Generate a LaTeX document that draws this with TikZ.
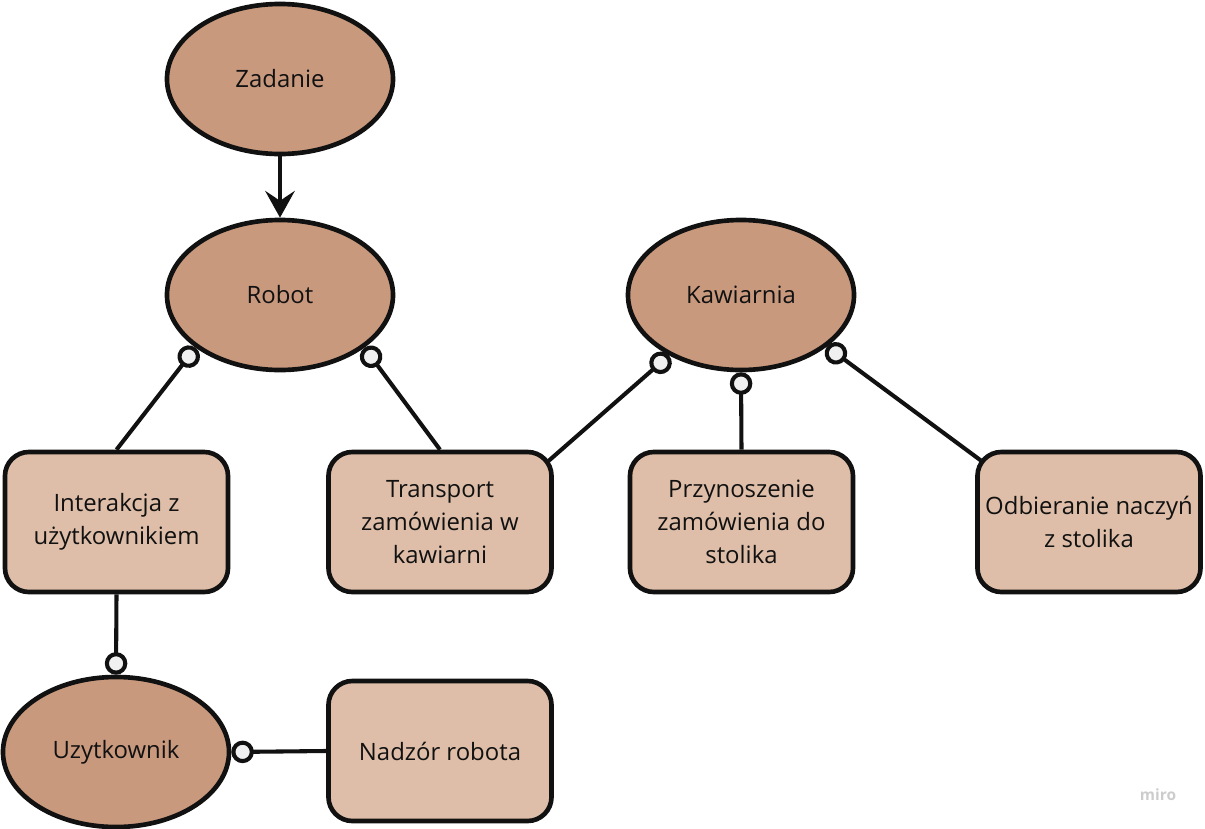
\documentclass[tikz,border=0pt]{standalone}
\usepackage{fontspec}
\setmainfont{Open Sans}
\usetikzlibrary{shapes}
\usetikzlibrary{positioning}
\usetikzlibrary{arrows.meta}
\definecolor{elfill}{HTML}{C9997E}
\definecolor{boxfill}{HTML}{DEBEA8}
\definecolor{dotfill}{HTML}{F0F0F0}
\definecolor{ink}{HTML}{111111}
\tikzset{
    myellipse/.style = {ellipse, line width=3.3pt, draw=ink, align=center, fill=elfill, minimum width=5.65cm, minimum height=3.75cm, font=\fontsize{17}{23.5}\selectfont, text=ink},
    mybox/.style = {rectangle, rounded corners=0.6cm, line width=3.3pt, draw=ink, align=center, fill=boxfill, minimum width=5.575cm, minimum height=3.5cm, font=\fontsize{17}{23.5}\selectfont, text=ink},
    edgeo/.style = {-{Circle[length=16pt, fill=dotfill]}, line width=2.9pt, ink}, % circle end
    edgea/.style = {-{Stealth[length=19pt, width=21pt, inset=7pt]}, line width=2.9pt, ink}, % arrow
    mymark/.style = {text=gray!40, font=\bfseries\fontsize{11}{11}\selectfont}
}
\begin{document}
\begin{tikzpicture}[x=0.025cm, y=-0.025cm]
\useasboundingbox (0,0) rectangle (1205,829);
% ellipses
\node[myellipse] (Zad) at (280,79) {Zadanie};
\node[myellipse] (Rob) at (280,295) {Robot};
\node[myellipse] (Kaw) at (741,295) {Kawiarnia};
\node[myellipse] (Uzy) at (116,752) {Uzytkownik};
% boxes
\node[mybox] (Int) at (116.5,522) {Interakcja z\\użytkownikiem};
\node[mybox] (Tra) at (440,522) {Transport\\zamówienia w\\kawiarni};
\node[mybox] (Prz) at (741.5,522) {Przynoszenie\\zamówienia do\\stolika};
\node[mybox] (Odb) at (1089,522) {Odbieranie naczyń\\z stolika};
\node[mybox] (Nad) at (440,751) {Nadzór robota};
\node[mymark] (miro) at (1158,795) {miro};
% connectors
\draw[edgea] (Zad.south) -- (Rob.north);
\draw[edgeo] (Int.north) -- (Rob.212);
\draw[edgeo] (Tra.north) -- (Rob.-32);
\draw[edgeo, shorten <=-5pt] (Tra.30) -- (Kaw.220);
\draw[edgeo] (Prz.north) -- (Kaw.south);
\draw[edgeo, shorten <=-5pt] (Odb.150) -- (Kaw.-31);
\draw[edgeo] (Int.south) -- (Uzy.north);
\draw[edgeo] (Nad.west) -- (Uzy.east);
\end{tikzpicture}
\end{document}
